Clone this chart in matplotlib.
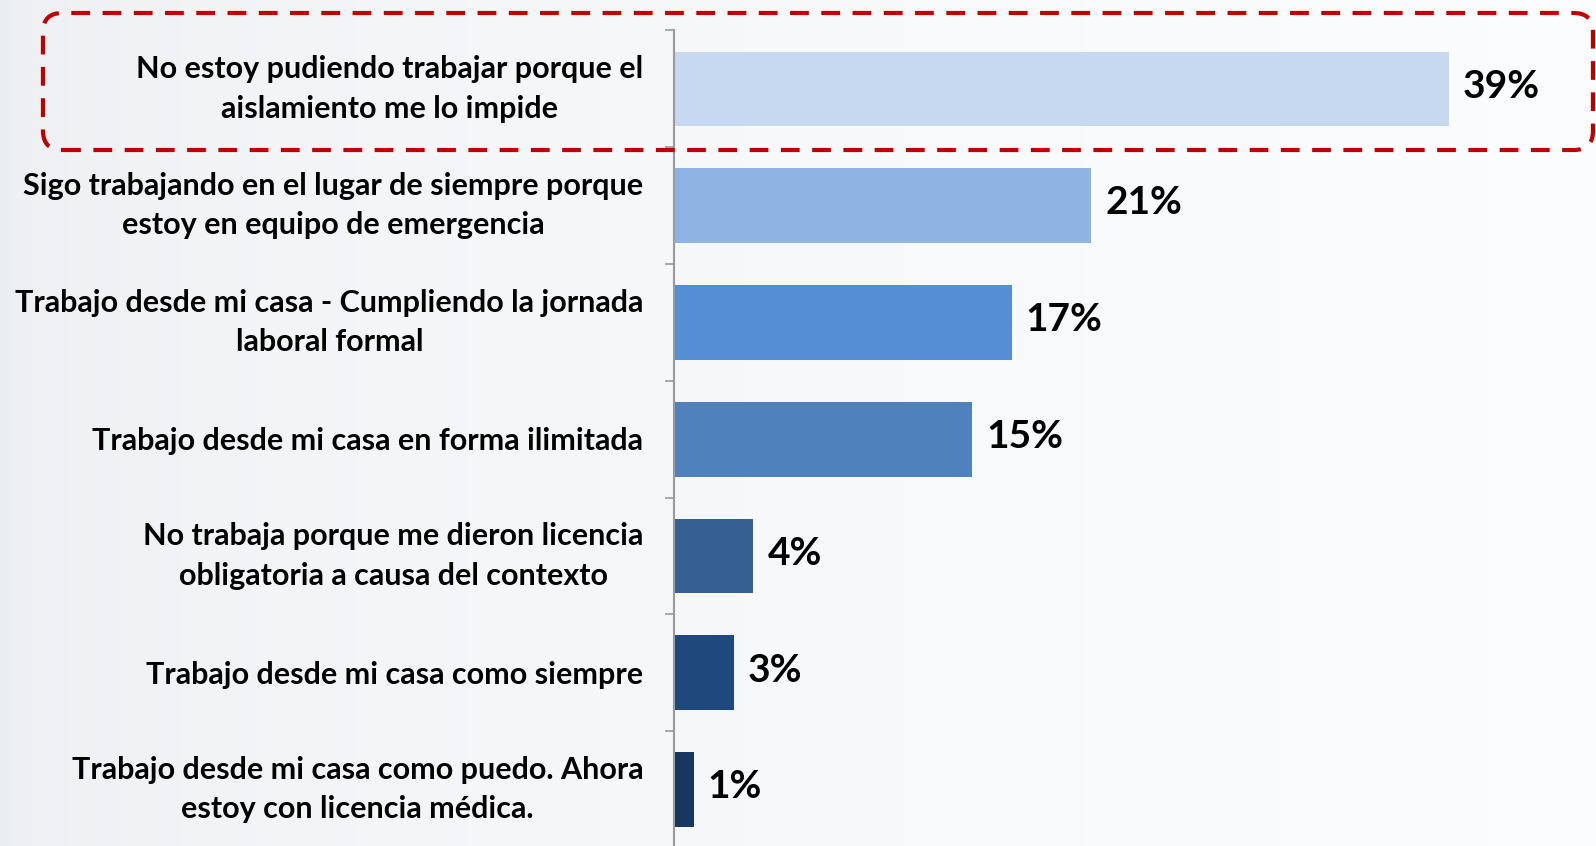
import numpy as np
import matplotlib
matplotlib.use('Agg')
import matplotlib.pyplot as plt
from matplotlib.patches import FancyBboxPatch

CATEGORIES = [
    'No estoy pudiendo trabajar porque el\naislamiento me lo impide',
    'Sigo trabajando en el lugar de siempre porque\nestoy en equipo de emergencia',
    'Trabajo desde mi casa - Cumpliendo la jornada\nlaboral formal',
    'Trabajo desde mi casa en forma ilimitada',
    'No trabaja porque me dieron licencia\nobligatoria a causa del contexto',
    'Trabajo desde mi casa como siempre',
    'Trabajo desde mi casa como puedo. Ahora\nestoy con licencia médica.',
]
VALUES = [39, 21, 17, 15, 4, 3, 1]
BAR_COLORS = ['#C6D9F0', '#8DB4E2', '#558ED5', '#4F81BD', '#376092', '#1F497D', '#17375E']

plt.rcParams['font.family'] = ['Lato', 'DejaVu Sans']

W, H = 1596, 846
fig = plt.figure(figsize=(W / 100, H / 100), dpi=100)

# light background gradient
bg = fig.add_axes([0, 0, 1, 1])
grad = np.linspace(0, 1, 256)
bg_img = np.ones((2, 256, 3))
left_c = np.array([0.925, 0.935, 0.945])
right_c = np.array([0.985, 0.99, 0.997])
for i in range(3):
    bg_img[:, :, i] = left_c[i] + (right_c[i] - left_c[i]) * np.sqrt(grad)
bg.imshow(bg_img, aspect='auto', extent=[0, 1, 0, 1])
bg.axis('off')

ax = fig.add_axes([674 / W, -2 / H, 914 / W, 817.5 / H])
ax.set_facecolor('none')

y = np.arange(len(CATEGORIES))
ax.barh(y, VALUES, height=0.64, color=BAR_COLORS)
ax.set_ylim(len(CATEGORIES) - 0.5, -0.5)
ax.set_xlim(0, 46)

for yi, v in zip(y, VALUES):
    ax.annotate(f'{v}%', (v, yi), xytext=(10, 2), textcoords='offset points',
                va='center', ha='left', fontsize=28, fontweight='bold', color='black')

# category labels, right aligned against the axis
for yi, cat in zip(y, CATEGORIES):
    dy = 0 if '\n' in cat else -1.5
    ax.annotate(cat, (0, yi), xycoords=ax.get_yaxis_transform(),
                xytext=(-22, dy), textcoords='offset points',
                ha='right', va='center', multialignment='center', linespacing=1.5,
                fontsize=22, fontweight='bold', color='black')

ax.set_yticks([])
ax.set_yticks(np.arange(len(CATEGORIES) + 1) - 0.5, minor=True)
ax.tick_params(axis='y', which='minor', length=6.5, width=1.2, color='#9a9a9a')
ax.set_xticks([])

for side in ['top', 'right', 'bottom']:
    ax.spines[side].set_visible(False)
ax.spines['left'].set_color('#9a9a9a')
ax.spines['left'].set_linewidth(1.5)

# red dashed highlight around the first row
box = FancyBboxPatch((43 / W, 1 - 150 / H), (1593 - 43) / W, (150 - 13) / H,
                     boxstyle='round,pad=0,rounding_size=0.012', mutation_aspect=W / H,
                     transform=fig.transFigure, facecolor='none', edgecolor='#C00000',
                     linewidth=3, linestyle=(0, (4.5, 3)), zorder=10)
fig.patches.append(box)

fig.savefig('out.png', dpi=100)
